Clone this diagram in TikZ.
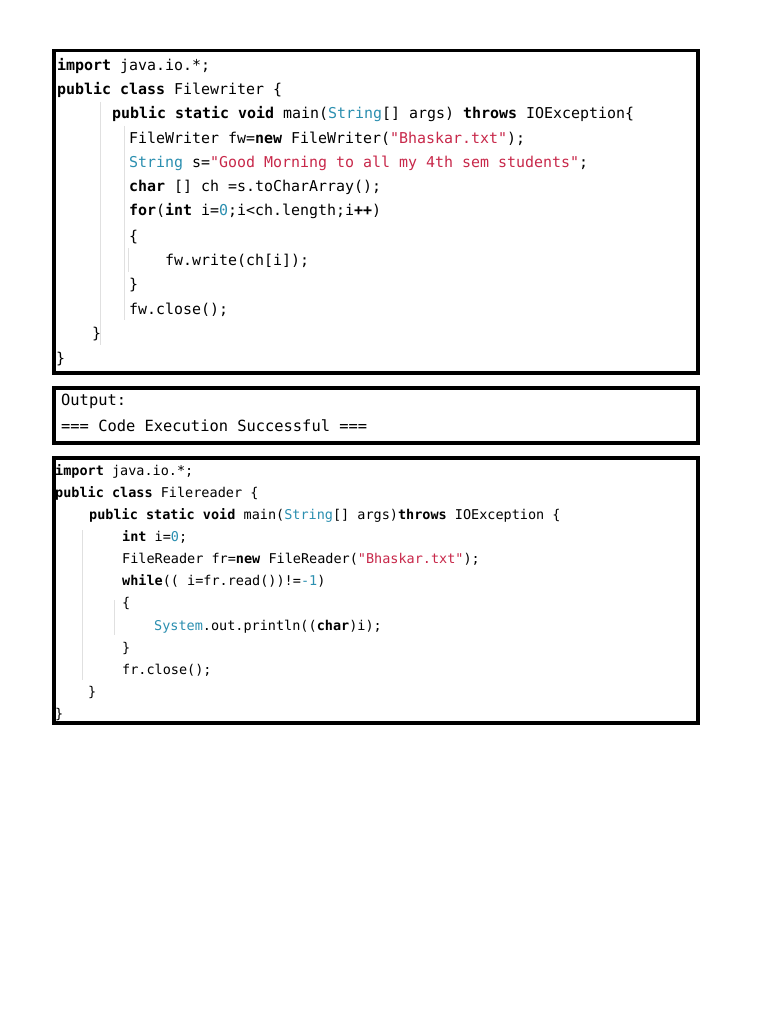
\documentclass[tikz,border=0pt]{standalone}
\usepackage{fontspec}
\setmonofont{DejaVu Sans Mono}
\usetikzlibrary{shadows}
\definecolor{ty}{HTML}{2B8FB0}
\definecolor{st}{HTML}{C8284A}
\newcommand{\kw}[1]{\textbf{#1}}
\newcommand{\ty}[1]{\textcolor{ty}{#1}}
\newcommand{\st}[1]{\textcolor{st}{#1}}
\tikzset{
  box/.style={draw=black,line width=3.5pt,fill=white,drop shadow={shadow xshift=2pt,shadow yshift=-2pt,opacity=0.5}},
  codeA/.style={anchor=base west,inner sep=0pt,font=\ttfamily\fontsize{14.95}{16}\selectfont},
  codeB/.style={anchor=base west,inner sep=0pt,font=\ttfamily\fontsize{13.5}{15}\selectfont},
  codeC/.style={anchor=base west,inner sep=0pt,font=\ttfamily\fontsize{15.4}{16}\selectfont},
  guide/.style={draw=black!12,line width=0.6pt}
}
\begin{document}
\begin{tikzpicture}[x=1pt,y=-1pt]
\useasboundingbox (0,0) rectangle (768,1024);
\fill[white] (0,0) rectangle (768,1024);
% box 1
\node[box,minimum width=644,minimum height=322,anchor=north west] (b1) at (52,49) {};
\draw[guide] (100,102) -- (100,345);
\draw[guide] (124,126) -- (124,320);
\draw[guide] (128,248) -- (128,272);
\node[codeA] (a1) at (57,71) {\kw{import} java.io.*;};
\node[codeA] (a2) at (57,95) {\kw{public} \kw{class} Filewriter \{};
\node[codeA] (a3) at (112,119) {\kw{public} \kw{static} \kw{void} main(\ty{String}[] args) \kw{throws} IOException\{};
\node[codeA] (a4) at (129,144) {FileWriter fw=\kw{new} FileWriter(\st{"Bhaskar.txt"});};
\node[codeA] (a5) at (129,168) {\ty{String} s=\st{"Good Morning to all my 4th sem students"};};
\node[codeA] (a6) at (129,192) {\kw{char} [] ch =s.toCharArray();};
\node[codeA] (a7) at (129,216) {\kw{for}(\kw{int} i=\ty{0};i<ch.length;i\kw{++})};
\node[codeA] (a8) at (129,241) {\{};
\node[codeA] (a9) at (165,265) {fw.write(ch[i]);};
\node[codeA] (a10) at (129,289) {\}};
\node[codeA] (a11) at (129,314) {fw.close();};
\node[codeA] (a12) at (92,338) {\}};
\node[codeA] (a13) at (56,363) {\}};
% box 2
\node[box,minimum width=644,minimum height=55,anchor=north west] (b2) at (52,386) {};
\node[codeC] (o1) at (61,405) {Output:};
\node[codeC] (o2) at (61,431) {=== Code Execution Successful ===};
% box 3
\node[box,minimum width=644,minimum height=265,anchor=north west] (b3) at (52,456) {};
\draw[guide] (82,530) -- (82,680);
\draw[guide] (114,600) -- (114,635);
\node[codeB] (c1) at (55,475) {\kw{import} java.io.*;};
\node[codeB] (c2) at (55,497) {\kw{public} \kw{class} Filereader \{};
\node[codeB] (c3) at (89,519) {\kw{public} \kw{static} \kw{void} main(\ty{String}[] args)\kw{throws} IOException \{};
\node[codeB] (c4) at (122,541) {\kw{int} i=\ty{0};};
\node[codeB] (c5) at (122,563) {FileReader fr=\kw{new} FileReader(\st{"Bhaskar.txt"});};
\node[codeB] (c6) at (122,585) {\kw{while}(( i=fr.read())!=\ty{-1})};
\node[codeB] (c7) at (122,607) {\{};
\node[codeB] (c8) at (154,630) {\ty{System}.out.println((\kw{char})i);};
\node[codeB] (c9) at (122,652) {\}};
\node[codeB] (c10) at (122,674) {fr.close();};
\node[codeB] (c11) at (88,696) {\}};
\node[codeB] (c12) at (55,718) {\}};
\end{tikzpicture}
\end{document}
